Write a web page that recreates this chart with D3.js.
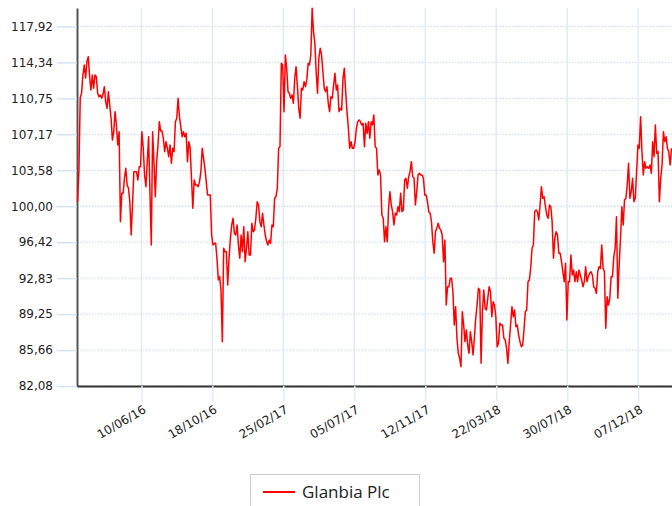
<!DOCTYPE html>
<html>
<head>
<meta charset="utf-8">
<script src="https://cdn.jsdelivr.net/npm/d3@7"></script>
<style>
body { margin: 0; background: #fff; }
svg { display: block; }
</style>
</head>
<body>
<div id="chart"></div>
<script>
// Series name + closing prices (oldest first)
var seriesName = "Glanbia Plc";
var prices = [
  // Feb 16 - Sep 16
  100.45, 103.44, 110.79, 111.29, 113.08, 114.08, 112.78, 114.41, 114.91, 112.91,
  111.59, 113.08, 111.76, 113.08, 112.91, 111.26, 110.92, 111.09, 110.76, 111.16,
  111.92, 110.42, 109.76, 111.42, 110.09, 108.77, 106.60, 107.43, 109.43, 108.10,
  106.11, 107.43, 98.46, 101.29, 101.29, 102.79, 103.78, 102.12, 101.79, 100.45,
  97.13, 100.12, 103.44, 103.44, 103.44, 102.62, 103.94, 103.94, 107.43, 105.78,
  103.11, 101.95, 104.44, 106.93, 101.45, 96.14, 107.43, 104.44, 100.95, 104.44,
  106.11, 108.43, 107.50, 107.50, 106.77, 105.44, 106.43, 105.78, 104.94, 106.11,
  104.28, 105.78, 105.44, 108.43, 108.77, 110.76, 108.93, 107.93, 106.93, 107.43,
  106.93, 107.27, 104.44, 106.43, 105.78, 102.79, 99.80, 102.62, 102.12,
  // Sep 16 - Apr 17
  102.12, 101.95, 102.45, 103.44, 105.78, 104.78, 103.78, 102.45, 101.12, 101.12,
  101.12, 97.13, 96.14, 96.31, 96.31, 94.81, 92.65, 92.98, 91.65, 86.50,
  95.81, 95.47, 95.47, 92.15, 94.81, 96.80, 98.13, 98.80, 97.30, 97.13,
  98.13, 96.14, 94.81, 97.13, 95.47, 97.96, 94.47, 95.81, 97.46, 95.14,
  95.14, 98.30, 97.46, 97.63, 98.80, 100.45, 100.12, 98.46, 97.96, 99.30,
  98.13, 97.13, 96.47, 96.14, 96.64, 96.31, 98.13, 97.96, 100.79, 100.95,
  101.79, 105.78, 105.94, 114.25, 114.08, 109.43, 115.08, 113.75, 111.42, 111.26,
  110.76, 111.09, 110.26, 112.75, 113.91, 111.92, 109.76, 108.77, 111.76, 111.59,
  112.42, 111.92, 112.59, 114.25, 114.08, 115.08, 119.73, 117.40, 116.24,
  // Apr 17 - Dec 17
  113.41, 111.26, 114.75, 115.75, 115.08, 113.41, 111.76, 111.42, 111.92, 110.26,
  109.43, 110.92, 110.76, 112.09, 113.25, 111.59, 112.09, 109.43, 109.76, 109.59,
  112.75, 113.75, 111.42, 109.43, 107.77, 105.78, 106.43, 105.78, 105.78, 106.43,
  107.77, 108.43, 108.60, 108.43, 108.10, 108.27, 105.94, 108.27, 107.27, 108.43,
  106.77, 108.43, 108.10, 109.10, 105.94, 105.78, 103.11, 103.61, 103.11, 99.13,
  98.80, 96.47, 97.96, 96.47, 99.80, 101.45, 100.12, 99.46, 98.13, 99.30,
  99.13, 99.95, 99.46, 101.29, 99.46, 99.63, 102.62, 102.79, 101.79, 102.95,
  103.44, 104.44, 102.95, 102.79, 100.12, 101.45, 103.11, 103.28, 103.11, 103.11,
  102.79, 101.12, 101.12, 100.45, 99.46, 99.30, 98.46, 96.47, 95.31, 97.46,
  97.83,
  // Dec 17 - Jul 18
  98.30, 97.80, 97.63, 97.13, 94.47, 96.64, 90.15, 91.98, 91.98, 92.82,
  92.82, 91.48, 88.16, 89.99, 86.84, 85.34, 84.84, 84.00, 89.49,
  88.16, 86.50, 87.66, 86.17, 85.34, 87.49, 86.50, 85.17, 86.84, 88.83,
  90.15, 91.82, 91.65, 84.34, 89.49, 91.65, 89.83, 89.66, 90.82, 91.98,
  91.48, 88.99, 90.48, 90.15, 88.99, 86.00, 86.34, 88.33, 88.16, 88.16,
  86.84, 86.67, 85.84, 84.34, 86.50, 88.16, 89.99, 88.99, 89.66, 87.99,
  88.16, 87.16, 86.50, 86.00, 86.17, 87.66, 89.49, 89.66, 92.48, 92.65,
  93.81, 95.81, 96.14, 99.46, 99.63, 99.46, 98.63, 100.12, 101.95,
  100.79, 100.95, 99.95, 99.13, 98.80, 100.12, 99.95, 98.46, 94.81, 96.80,
  97.46,
  // Jul 18 - Feb 19
  97.13, 95.31, 95.31, 94.47, 93.47, 92.48, 94.31, 88.66, 92.48,
  92.48, 95.14, 93.15, 93.64, 92.48, 93.47, 92.48, 93.64, 93.15, 92.65,
  91.98, 92.48, 93.97, 92.48, 92.98, 93.32, 93.47, 93.15, 91.98, 91.82,
  91.32, 93.47, 93.97, 93.81, 96.14, 93.81, 93.47, 87.83, 90.98, 90.15,
  90.82, 92.98, 92.98, 94.97, 95.81, 98.96, 90.82, 94.14, 96.80, 99.95,
  98.13, 100.62, 100.79, 102.12, 104.28, 100.79, 101.45, 102.79, 100.45, 100.79,
  103.44, 106.11, 105.78, 108.93, 105.44, 103.11, 104.44, 103.78, 103.94,
  103.78, 104.11, 103.28, 106.43, 104.94, 108.10, 105.28, 105.44, 100.45, 102.79,
  104.11, 107.43, 106.43, 106.93, 105.78, 105.44, 104.11, 105.78
];

// first / last sample dates and the visible axis range
var firstDate = "2016-02-14";
var lastDate = "2019-02-06";
var axisStart = "2016-02-13";
var axisEnd = "2019-02-07";

// x tick dates (dd/mm/yy labels)
var tickDates = ["2016-06-10", "2016-10-18", "2017-02-25", "2017-07-05",
                 "2017-11-12", "2018-03-22", "2018-07-30", "2018-12-07"];

// y tick values + axis top
var yTicks = [82.08, 85.66, 89.25, 92.83, 96.42, 100.00, 103.58, 107.17, 110.75, 114.34, 117.92];
var yMin = 82.08;
var yMax = 119.76;

// SVG area
var svgWidth = 672;
var svgHeight = 506;
var margin = {top: 8, right: 0, bottom: 120, left: 77};
var width = svgWidth - margin.left - margin.right;
var height = svgHeight - margin.top - margin.bottom;

var parseDate = d3.timeParse("%Y-%m-%d");
var t0 = parseDate(firstDate).getTime();
var t1 = parseDate(lastDate).getTime();

// one sample per trading-day slot, spread over the date range
var data = prices.map(function(p, i) {
    return {date: new Date(t0 + i * (t1 - t0) / (prices.length - 1)), value: p};
});

var svg = d3.select("#chart")
    .append("svg")
    .attr("width", svgWidth)
    .attr("height", svgHeight)
    .style("font-family", "'DejaVu Sans', Verdana, sans-serif");

var chartGroup = svg.append("g").attr("transform", `translate(${margin.left}, ${margin.top})`);

var xScale = d3.scaleTime()
    .domain([parseDate(axisStart), parseDate(axisEnd)])
    .range([0, width]);

var yScale = d3.scaleLinear()
    .domain([yMin, yMax])
    .range([height, 0]);

var gridColor = "#d0e0f4";

// horizontal dotted grid
chartGroup.append("g")
    .selectAll("line")
    .data(yTicks)
    .enter()
    .append("line")
    .attr("x1", 0)
    .attr("x2", width)
    .attr("y1", d => yScale(d))
    .attr("y2", d => yScale(d))
    .attr("stroke", gridColor)
    .attr("stroke-width", 1.3)
    .attr("stroke-dasharray", "1.5,1.5");

// vertical grid
chartGroup.append("g")
    .selectAll("line")
    .data(tickDates)
    .enter()
    .append("line")
    .attr("x1", d => xScale(parseDate(d)))
    .attr("x2", d => xScale(parseDate(d)))
    .attr("y1", 0)
    .attr("y2", height)
    .attr("stroke", "#e1ebf8")
    .attr("stroke-width", 1.5);

// y axis
var fmt = d3.formatLocale({decimal: ",", thousands: ".", grouping: [3], currency: ["", ""]}).format(".2f");
var leftAxis = d3.axisLeft(yScale)
    .tickValues(yTicks)
    .tickFormat(fmt)
    .tickSize(20)
    .tickSizeOuter(0)
    .tickPadding(4);

var yAxisG = chartGroup.append("g").call(leftAxis);
yAxisG.select(".domain").attr("stroke", "#555").attr("stroke-width", 2);
yAxisG.selectAll(".tick line").attr("stroke", gridColor).attr("stroke-width", 1.3);
yAxisG.selectAll(".tick text")
    .attr("fill", "#222")
    .style("font-size", "12px")
    .style("font-family", "'DejaVu Sans', Verdana, sans-serif");

// x axis
var bottomAxis = d3.axisBottom(xScale)
    .tickValues(tickDates.map(parseDate))
    .tickFormat(d3.timeFormat("%d/%m/%y"))
    .tickSize(15)
    .tickSizeOuter(0);

var xAxisG = chartGroup.append("g")
    .attr("transform", `translate(0, ${height})`)
    .call(bottomAxis);
xAxisG.select(".domain").attr("stroke", "#333").attr("stroke-width", 2);
xAxisG.selectAll(".tick line").attr("stroke", "#e1ebf8").attr("stroke-width", 1.5);
xAxisG.selectAll(".tick text")
    .attr("fill", "#222")
    .attr("text-anchor", "end")
    .attr("x", 0)
    .attr("y", 0)
    .attr("dy", 0)
    .attr("transform", "translate(5, 26) rotate(-30)")
    .style("font-size", "12px")
    .style("font-family", "'DejaVu Sans', Verdana, sans-serif");

// price line
var line = d3.line()
    .x(d => xScale(d.date))
    .y(d => yScale(d.value));

chartGroup.append("path")
    .datum(data)
    .attr("fill", "none")
    .attr("stroke", "#ff0000")
    .attr("stroke-width", 1.5)
    .attr("stroke-linejoin", "round")
    .attr("d", line);

// legend
var legend = svg.append("g");
legend.append("rect")
    .attr("x", 250.5)
    .attr("y", 474.5)
    .attr("width", 169)
    .attr("height", 40)
    .attr("fill", "#fff")
    .attr("stroke", "#cccccc");
legend.append("line")
    .attr("x1", 263)
    .attr("x2", 295)
    .attr("y1", 492)
    .attr("y2", 492)
    .attr("stroke", "#ff0000")
    .attr("stroke-width", 2);
legend.append("text")
    .attr("x", 302)
    .attr("y", 498)
    .attr("fill", "#222")
    .style("font-size", "17px")
    .style("font-family", "'Open Sans', sans-serif")
    .text(seriesName);
</script>
</body>
</html>
